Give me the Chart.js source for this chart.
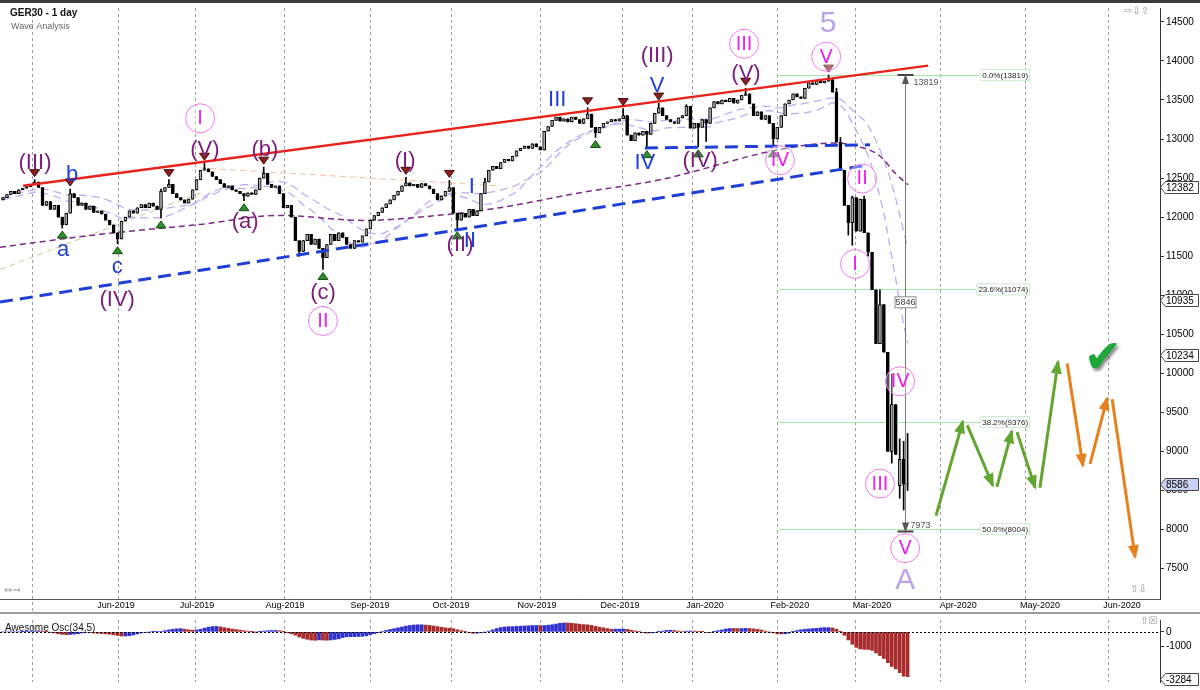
<!DOCTYPE html>
<html>
<head>
<meta charset="utf-8">
<script src="https://cdn.jsdelivr.net/npm/chart.js@4.4.1/dist/chart.umd.min.js"></script>
<style>
  html, body { margin: 0; padding: 0; background: #fff; }
  #wrap { position: relative; width: 1200px; height: 690px; overflow: hidden; }
  #main { position: absolute; left: 0; top: 0; }
  #osc { position: absolute; left: 0; top: 612px; }
</style>
</head>
<body>
<div id="wrap">
  <canvas id="main" width="1200" height="612"></canvas>
  <canvas id="osc" width="1200" height="78"></canvas>
</div>
<script>
// GER30 daily closes, one per trading day
const closes = [
  12250, 12290, 12330, 12300, 12350, 12370, 12390, 12420, 12450, 12380,
  12150, 12200, 12100, 12150, 12000, 11900, 12050, 12300, 12250, 12150,
  12180, 12100, 12140, 12060, 12080, 12040, 11960, 11900, 11800, 11720,
  11950, 12000, 12080, 12050, 12120, 12160, 12120, 12180, 12140, 12100,
  12330, 12380, 12420, 12300, 12250, 12220, 12180, 12230, 12350, 12480,
  12600, 12620, 12580, 12520, 12480, 12430, 12380, 12400, 12350, 12330,
  12300, 12270, 12310, 12290, 12350, 12500, 12560, 12420, 12380, 12400,
  12300, 12120, 12150, 12000, 11700, 11560, 11700, 11780, 11650, 11720,
  11600, 11480, 11650, 11780, 11700, 11800, 11740, 11650, 11600, 11700,
  11680, 11760, 11850, 11960, 12020, 12060, 12120, 12170, 12220, 12280,
  12330, 12400, 12440, 12400, 12420, 12380, 12430, 12400, 12360, 12300,
  12220, 12270, 12330, 12380, 12050, 11960, 12050, 12000, 12100, 12020,
  12080, 12300, 12450, 12600, 12650, 12620, 12700, 12740, 12720, 12780,
  12850, 12880, 12910, 12880, 12940, 12900, 12860, 13100, 13160, 13240,
  13280, 13230, 13260, 13220, 13280, 13250, 13200, 13260, 13320, 13150,
  13080, 13150, 13200, 13220, 13250, 13230, 13260, 13300, 13050, 12980,
  13080, 13050, 13100, 13060, 13200, 13330, 13400, 13300, 13250, 13220,
  13200, 13270, 13300, 13420, 13140, 13200, 13150, 13250, 13200, 13400,
  13480, 13450, 13500, 13480, 13520, 13460, 13500, 13560, 13580, 13450,
  13300, 13350, 13250, 13300, 13200, 13000, 13150, 13300, 13450, 13500,
  13580, 13540, 13520, 13650, 13720, 13700, 13750, 13720, 13740, 13760,
  13600, 12960, 12600, 12150, 11930, 12250, 11820, 12230, 11800, 11550,
  11070, 10380, 10880, 10270, 9000, 9600, 8960, 8900, 8580, 8586
];
const firstOpen = 12220;
const openGaps = {227: 8560};
// visible wicks only
const wickHigh = {8: 12480, 17: 12360, 40: 12360, 42: 12480, 51: 12690, 66: 12640, 102: 12510, 113: 12470,
  122: 12500, 148: 13400, 157: 13390, 166: 13460, 173: 13440, 188: 13650, 209: 13819, 211: 13650,
  212: 13020, 215: 12270, 218: 12270, 222: 11070, 225: 9990, 227: 9160, 228: 9130, 229: 9230};
const wickLow = {15: 11860, 29: 11660, 40: 11990, 61: 12210, 75: 11500, 81: 11330, 115: 11850, 150: 13020,
  163: 12890, 176: 12900, 178: 12970, 195: 12900, 214: 11770, 215: 11640, 219: 11500, 225: 8850,
  227: 8400, 228: 8250, 229: 8500};

const topMarkBars = [8, 17, 42, 51, 66, 102, 113, 148, 157, 166, 188, 209];
const bottomMarkBars = [15, 29, 40, 61, 81, 115, 150, 163, 176, 195];

const monthLabels = ['Jun-2019', 'Jul-2019', 'Aug-2019', 'Sep-2019', 'Oct-2019', 'Nov-2019', 'Dec-2019',
  'Jan-2020', 'Feb-2020', 'Mar-2020', 'Apr-2020', 'May-2020', 'Jun-2020'];
const monthBars = [28.6, 49.1, 71.4, 92.9, 113.4, 135.2, 156.2, 177.7, 199.2, 220.0, 241.8, 262.5, 283.3];
const gridBars = [7.3, 29.1, 48.6, 71.1, 92.9, 113.4, 136.0, 156.7, 174.4, 196.0, 215.7, 237.2, 258.7, 279.7];
const priceTicks = [7500, 8000, 8500, 9000, 9500, 10000, 10500, 11000, 11500, 12000, 12500, 13000, 13500, 14000, 14500];

// long moving average (dark purple dashed)
const maBars = [-0.76, 24.6, 49.9, 70.1, 91.1, 112.4, 125.8, 146.1, 166.3, 196.0, 210.1, 216.2, 222.0, 225.8, 229.1];
const maPrices = [11615, 11780, 11907, 12022, 11958, 12034, 12121, 12312, 12478, 12860, 12948, 12910, 12783, 12566, 12414];

// trend lines
const resistBars = [5.1, 234.2], resistPrices = [12401, 13940];
const supportBars = [-0.76, 219.2], supportPrices = [10913, 12668];
const neckBars = [162.5, 219.5], neckPrices = [12885, 12926];
const fadeBars = [49.9, 125.8], fadePrices = [12630, 12400];
const oliveBars = [-0.76, 49.9], olivePrices = [11330, 12310];

// fibonacci retracement
const fibNames = ['0.0%', '23.6%', '38.2%', '50.0%'];
const fibPrices = [13819, 11074, 9376, 8004];
const fibFrom = 196.5, fibTo = 260;
const measureBar = 228.4, measureTop = 13819, measureBottom = 7973, measureSpan = 5846;

// projected path (green up, orange down), null = break
const greenBars = [236.2, 243.0, null, 244.1, 250.6, null, 251.6, 255.4, null, 256.7, 261.3, null, 262.5, 267.1];
const greenPrices = [8178, 9386, null, 9336, 8560, null, 8547, 9259, null, 9247, 8535, null, 8535, 10150];
const orangeBars = [269.4, 273.4, null, 275.2, 279.5, null, 280.8, 286.6];
const orangePrices = [10125, 8815, null, 8840, 9680, null, 9667, 7645];

const tagPrices = [12382, 10935, 10234, 8586];
const aoLowTag = -3284;

const waveLabels = [
  ['II', 118.2, 11700, 'b'], ['b', 17.5, 12540, 'b'], ['a', 15.2, 11586, 'b'], ['c', 28.9, 11357, 'b'],
  ['I', 118.7, 12389, 'b'], ['III', 140.3, 13507, 'b'], ['V', 165.6, 13685, 'b'], ['IV', 162.5, 12692, 'b'],
  ['(III)', 8.1, 12692, 'p'], ['(V)', 51.1, 12858, 'p'], ['(b)', 66.3, 12858, 'p'], ['(a)', 61.3, 11942, 'p'],
  ['(c)', 81.0, 11026, 'p'], ['(IV)', 28.9, 10937, 'p'], ['(I)', 101.8, 12718, 'p'], ['(II)', 115.7, 11649, 'p'],
  ['(III)', 165.6, 14068, 'p'], ['(V)', 188.1, 13838, 'p'], ['(IV)', 176.5, 12718, 'p'],
  ['5', 208.9, 14474, 'l'], ['A', 228.4, 7350, 'l']
];
const circledLabels = [
  ['I', 49.9, 13266], ['II', 81.0, 10670], ['III', 187.6, 14220], ['V', 208.4, 14055], ['IV', 196.7, 12730],
  ['II', 217.5, 12494], ['I', 215.7, 11400], ['IV', 227.1, 9898], ['III', 222.0, 8588], ['V', 228.4, 7761]
];

const FONT = '"Liberation Sans", Arial, sans-serif';
const xMin = -0.76, xMax = 292.9;

// ---- candles ----
const opens = closes.map((c, i) => openGaps[i] !== undefined ? openGaps[i] : (i === 0 ? firstOpen : closes[i - 1]));
const highs = closes.map((c, i) => Math.max(opens[i], c, wickHigh[i] !== undefined ? wickHigh[i] : -Infinity));
const lows = closes.map((c, i) => Math.min(opens[i], c, wickLow[i] !== undefined ? wickLow[i] : Infinity));

function sma(arr, n) {
  return arr.map((_, i) => {
    let s = 0, k = 0;
    for (let j = Math.max(0, i - n + 1); j <= i; j++) { s += arr[j]; k++; }
    return s / k;
  });
}
// band of moving averages (lilac dashed)
const bandUpper = sma(highs, 22);
const bandLower = sma(lows, 17);

// awesome oscillator: sma5 - sma34 of median price
const medians = highs.map((h, i) => (h + lows[i]) / 2);
const m5 = sma(medians, 5), m34 = sma(medians, 34);
const ao = m5.map((v, i) => v - m34[i]);
const aoColors = ao.map((v, i) => (i === 0 || v >= ao[i - 1]) ? '#2f2fd0' : '#a82a2a');

const pts = (bs, ps) => bs.map((b, i) => ({x: b === null ? bs[i - 1] : b, y: ps[i]}));

function arrowHead(ctx, x0, y0, x1, y1, color, len, w) {
  const a = Math.atan2(y1 - y0, x1 - x0);
  ctx.save();
  ctx.translate(x1, y1);
  ctx.rotate(a);
  ctx.beginPath();
  ctx.moveTo(2, 0);
  ctx.lineTo(-len, -w);
  ctx.lineTo(-len, w);
  ctx.closePath();
  ctx.fillStyle = color;
  ctx.fill();
  ctx.restore();
}

function vGrid(chart, top, bottom) {
  const {ctx, chartArea: a, scales: {x}} = chart;
  ctx.save();
  ctx.strokeStyle = '#9a9a9a';
  ctx.lineWidth = 1;
  ctx.setLineDash([3, 3]);
  gridBars.forEach(b => {
    const px = Math.round(x.getPixelForValue(b)) + 0.5;
    ctx.beginPath(); ctx.moveTo(px, top === undefined ? a.top : top); ctx.lineTo(px, bottom === undefined ? a.bottom : bottom); ctx.stroke();
  });
  ctx.restore();
}

const mainDecor = {
  id: 'mainDecor',
  beforeDatasetsDraw(chart) {
    const {ctx, scales: {x, y}} = chart;
    vGrid(chart, undefined, 612);
    ctx.save();
    ctx.strokeStyle = '#a6e6a6';
    ctx.lineWidth = 1;
    fibPrices.forEach(p => {
      const py = Math.round(y.getPixelForValue(p)) + 0.5;
      ctx.beginPath(); ctx.moveTo(x.getPixelForValue(fibFrom), py); ctx.lineTo(x.getPixelForValue(fibTo), py); ctx.stroke();
    });
    ctx.restore();
  },
  afterDatasetsDraw(chart) {
    const {ctx, chartArea: area, scales: {x, y}} = chart;
    const X = v => x.getPixelForValue(v), Y = v => y.getPixelForValue(v);
    ctx.save();

    // top strip
    ctx.fillStyle = '#3a3a3a';
    ctx.fillRect(0, 0, 1200, 3);

    // month labels under the plot
    ctx.font = '9px ' + FONT; ctx.textAlign = 'center'; ctx.textBaseline = 'middle';
    monthBars.forEach((b, i) => {
      const w = ctx.measureText(monthLabels[i]).width;
      ctx.fillStyle = '#fff'; ctx.fillRect(X(b) - w / 2 - 1, area.bottom + 1, w + 2, 11);
      ctx.fillStyle = '#000'; ctx.fillText(monthLabels[i], X(b), area.bottom + 7);
    });

    // swing markers
    topMarkBars.forEach(b => {
      const px = X(b), py = Y(highs[b]) - 3;
      ctx.beginPath(); ctx.moveTo(px, py); ctx.lineTo(px - 5, py - 7); ctx.lineTo(px + 5, py - 7); ctx.closePath();
      ctx.fillStyle = '#8a1f1f'; ctx.fill();
      ctx.strokeStyle = '#4a0d0d'; ctx.lineWidth = 1; ctx.stroke();
    });
    bottomMarkBars.forEach(b => {
      const px = X(b), py = Y(lows[b]) + 3;
      ctx.beginPath(); ctx.moveTo(px, py); ctx.lineTo(px - 5, py + 7); ctx.lineTo(px + 5, py + 7); ctx.closePath();
      ctx.fillStyle = '#2f8f2f'; ctx.fill();
      ctx.strokeStyle = '#165016'; ctx.lineWidth = 1; ctx.stroke();
    });

    // projection arrowheads
    [[greenBars, greenPrices, '#62a531'], [orangeBars, orangePrices, '#e8801e']].forEach(([bs, ps, col]) => {
      for (let i = 1; i < bs.length; i++) {
        if (bs[i] !== null && bs[i - 1] !== null && (i === bs.length - 1 || bs[i + 1] === null)) {
          arrowHead(ctx, X(bs[i - 1]), Y(ps[i - 1]), X(bs[i]), Y(ps[i]), col, 12, 5.5);
        }
      }
    });

    // fib labels
    ctx.font = '8px ' + FONT;
    ctx.textBaseline = 'middle';
    fibPrices.forEach((p, i) => {
      const t = fibNames[i] + '(' + p + ')';
      const w = ctx.measureText(t).width;
      const rx = X(fibTo) - w - 4, ry = Y(p) - 6;
      ctx.fillStyle = '#fff';
      ctx.fillRect(rx, ry, w + 4, 12);
      ctx.strokeStyle = '#c8eec8';
      ctx.strokeRect(rx + 0.5, ry + 0.5, w + 3, 11);
      ctx.fillStyle = '#222';
      ctx.textAlign = 'left';
      ctx.fillText(t, rx + 2, Y(p) + 0.5);
    });

    // measurement
    const mx = Math.round(X(measureBar)) + 0.5, my0 = Y(measureTop), my1 = Y(measureBottom);
    ctx.strokeStyle = '#777'; ctx.lineWidth = 1;
    ctx.beginPath(); ctx.moveTo(mx, my0); ctx.lineTo(mx, my1); ctx.stroke();
    ctx.strokeStyle = '#444'; ctx.lineWidth = 2;
    ctx.beginPath(); ctx.moveTo(mx - 8, my0); ctx.lineTo(mx + 8, my0); ctx.moveTo(mx - 8, my1); ctx.lineTo(mx + 8, my1); ctx.stroke();
    arrowHead(ctx, mx, my0 + 20, mx, my0 + 1, '#555', 8, 3.5);
    arrowHead(ctx, mx, my1 - 20, mx, my1 - 1, '#555', 8, 3.5);
    ctx.font = '9px ' + FONT; ctx.fillStyle = '#555'; ctx.textAlign = 'left';
    ctx.fillText(String(measureTop), mx + 8, my0 + 7);
    ctx.fillText(String(measureBottom), mx + 5, my1 - 6);
    const midY = Y(10935) + 2;
    ctx.fillStyle = '#fff'; ctx.fillRect(mx - 11, midY - 6, 22, 12);
    ctx.strokeStyle = '#888'; ctx.lineWidth = 1; ctx.strokeRect(mx - 10.5, midY - 5.5, 21, 11);
    ctx.fillStyle = '#444'; ctx.textAlign = 'center'; ctx.fillText(String(measureSpan), mx, midY + 0.5);

    // wave labels
    const styles = {
      b: ['#1f3fd6', '22px ' + FONT],
      p: ['#7a1c7a', '22px ' + FONT],
      l: ['#b9a2ea', '30px ' + FONT]
    };
    ctx.textAlign = 'center'; ctx.textBaseline = 'middle';
    waveLabels.forEach(([t, b, p, s]) => {
      ctx.fillStyle = styles[s][0]; ctx.font = styles[s][1];
      ctx.fillText(t, X(b), Y(p));
    });
    circledLabels.forEach(([t, b, p]) => {
      const cx = X(b), cy = Y(p);
      ctx.beginPath(); ctx.arc(cx, cy, 14.5, 0, Math.PI * 2);
      ctx.fillStyle = 'rgba(255,255,255,0.35)'; ctx.fill();
      ctx.strokeStyle = '#f07af0'; ctx.lineWidth = 1; ctx.stroke();
      ctx.fillStyle = '#ee1fee'; ctx.font = '19px "DejaVu Sans", ' + FONT;
      ctx.fillText(t, cx, cy + 1);
    });

    // check mark
    ctx.save();
    ctx.shadowColor = 'rgba(0,0,0,0.45)'; ctx.shadowOffsetX = 2; ctx.shadowOffsetY = 3; ctx.shadowBlur = 3;
    ctx.fillStyle = '#1ea83a'; ctx.font = 'bold 46px "DejaVu Sans", sans-serif';
    ctx.fillText('\u2714', 1103, 360);
    ctx.restore();

    // title
    ctx.textAlign = 'left'; ctx.textBaseline = 'alphabetic';
    ctx.fillStyle = '#111'; ctx.font = 'bold 10px ' + FONT;
    ctx.fillText('GER30 - 1 day', 10, 16);
    ctx.fillStyle = '#666'; ctx.font = '9px ' + FONT;
    ctx.fillText('Wave Analysis', 11, 29);
    ctx.fillStyle = '#999'; ctx.font = '10px "DejaVu Sans", sans-serif';
    ctx.fillText('\u21E8\u21E9\u21E7', 1124, 14);
    ctx.fillText('\u21D4\u21D2', 4, 593);
    ctx.fillText('\u21E7\u21E9', 1130, 592);

    // price tags
    ctx.font = '10px ' + FONT; ctx.textBaseline = 'middle';
    tagPrices.forEach((p, i) => {
      const ty = Math.round(Y(p)) + 0.5, tx = 1160.5;
      ctx.beginPath();
      ctx.moveTo(tx, ty); ctx.lineTo(tx + 5, ty - 6); ctx.lineTo(1198.5, ty - 6);
      ctx.lineTo(1198.5, ty + 6); ctx.lineTo(tx + 5, ty + 6); ctx.closePath();
      ctx.fillStyle = i === tagPrices.length - 1 ? '#c9d1f4' : '#fff'; ctx.fill();
      ctx.strokeStyle = '#444'; ctx.lineWidth = 1; ctx.stroke();
      ctx.fillStyle = '#000'; ctx.fillText(String(p), 1166, ty + 0.5);
    });
    ctx.restore();
  }
};

new Chart(document.getElementById('main'), {
  data: {
    datasets: [
      {type: 'line', data: pts(resistBars, resistPrices), borderColor: '#e8231c', borderWidth: 2.5, pointRadius: 0},
      {type: 'line', data: pts(supportBars, supportPrices), borderColor: '#1f3fd6', borderWidth: 3, borderDash: [13, 7], pointRadius: 0},
      {type: 'line', data: pts(neckBars, neckPrices), borderColor: '#1f3fd6', borderWidth: 3, borderDash: [13, 7], pointRadius: 0},
      {type: 'bar', data: closes.map((c, i) => ({x: i, y: [opens[i], c]})), grouped: false, barThickness: 3,
        backgroundColor: closes.map((c, i) => c >= opens[i] ? '#a9a9a9' : '#000'),
        borderColor: '#000', borderWidth: 1, borderSkipped: false},
      {type: 'bar', data: closes.map((c, i) => ({x: i, y: [lows[i], highs[i]]})), grouped: false, barThickness: 1,
        backgroundColor: '#000'},
      {type: 'line', data: pts(maBars, maPrices), borderColor: '#7c2a86', borderWidth: 1.5, borderDash: [6, 4],
        pointRadius: 0, cubicInterpolationMode: 'monotone'},
      {type: 'line', data: bandUpper.map((v, i) => ({x: i, y: v})), borderColor: '#c2a9f0', borderWidth: 1.3, borderDash: [8, 5], pointRadius: 0},
      {type: 'line', data: bandLower.map((v, i) => ({x: i, y: v})), borderColor: '#c2a9f0', borderWidth: 1.3, borderDash: [8, 5], pointRadius: 0},
      {type: 'line', data: pts(fadeBars, fadePrices), borderColor: '#f3bf9a', borderWidth: 1, borderDash: [6, 4], pointRadius: 0},
      {type: 'line', data: pts(oliveBars, olivePrices), borderColor: '#cfc79a', borderWidth: 1, borderDash: [6, 4], pointRadius: 0},
      {type: 'line', data: pts(greenBars, greenPrices), borderColor: '#62a531', borderWidth: 3, pointRadius: 0, spanGaps: false},
      {type: 'line', data: pts(orangeBars, orangePrices), borderColor: '#e8801e', borderWidth: 3, pointRadius: 0, spanGaps: false}
    ]
  },
  options: {
    responsive: false, animation: false, devicePixelRatio: 1,
    layout: {padding: {top: 4, left: 0, right: 0, bottom: 0}},
    plugins: {legend: {display: false}, tooltip: {enabled: false}},
    scales: {
      x: {
        type: 'linear', min: xMin, max: xMax, offset: false,
        grid: {display: false}, border: {color: '#555'},
        afterBuildTicks: s => { s.ticks = monthBars.map(v => ({value: v})); },
        afterFit: s => { s.height = 13; },
        ticks: {display: false}
      },
      y: {
        position: 'right', min: 7110, max: 14678,
        afterBuildTicks: s => { s.ticks = priceTicks.map(v => ({value: v})); },
        afterFit: s => { s.width = 40; },
        grid: {drawOnChartArea: false, tickLength: 4, color: '#333'}, border: {color: '#333'},
        ticks: {padding: 2, color: '#000', font: {size: 10, family: FONT}, callback: v => String(v)}
      }
    }
  },
  plugins: [mainDecor]
});

const oscDecor = {
  id: 'oscDecor',
  beforeDatasetsDraw(chart) {
    vGrid(chart);
  },
  afterDatasetsDraw(chart) {
    const {ctx, chartArea: a, scales: {y}} = chart;
    ctx.save();
    ctx.fillStyle = '#9c9c9c';
    ctx.fillRect(0, 0, 1200, 2);
    const zy = Math.round(y.getPixelForValue(0)) + 0.5;
    ctx.strokeStyle = '#000'; ctx.lineWidth = 1; ctx.setLineDash([2, 2]);
    ctx.beginPath(); ctx.moveTo(a.left, zy); ctx.lineTo(a.right, zy); ctx.stroke();
    ctx.setLineDash([]);
    ctx.fillStyle = '#111'; ctx.font = '10px ' + FONT; ctx.textBaseline = 'middle'; ctx.textAlign = 'left';
    ctx.fillText('Awesome Osc(34,5)', 5, 16);
    const ty = Math.min(Math.round(y.getPixelForValue(aoLowTag)), 70) + 0.5;
    ctx.beginPath();
    ctx.moveTo(1160.5, ty); ctx.lineTo(1165.5, ty - 6); ctx.lineTo(1198.5, ty - 6);
    ctx.lineTo(1198.5, ty + 6); ctx.lineTo(1165.5, ty + 6); ctx.closePath();
    ctx.fillStyle = '#fff'; ctx.fill(); ctx.strokeStyle = '#444'; ctx.stroke();
    ctx.fillStyle = '#000'; ctx.fillText(String(aoLowTag), 1166, ty + 0.5);
    ctx.fillStyle = '#999'; ctx.font = '10px "DejaVu Sans", sans-serif';
    ctx.fillText('\u21E7\u2612', 1140, 9);
    ctx.restore();
  }
};

new Chart(document.getElementById('osc'), {
  type: 'bar',
  data: {
    datasets: [{data: ao.map((v, i) => ({x: i, y: v})), backgroundColor: aoColors, barThickness: 3}]
  },
  options: {
    responsive: false, animation: false, devicePixelRatio: 1,
    layout: {padding: {top: 3, left: 0, right: 0, bottom: 2}},
    plugins: {legend: {display: false}, tooltip: {enabled: false}},
    scales: {
      x: {type: 'linear', min: xMin, max: xMax, offset: false, display: false},
      y: {
        position: 'right', min: -3470, max: 824,
        afterBuildTicks: s => { s.ticks = [{value: 0}, {value: -1000}]; },
        afterFit: s => { s.width = 40; },
        grid: {drawOnChartArea: false, tickLength: 4, color: '#333'}, border: {color: '#333'},
        ticks: {padding: 2, color: '#000', font: {size: 10, family: FONT}, callback: v => String(v)}
      }
    }
  },
  plugins: [oscDecor]
});
</script>
</body>
</html>
